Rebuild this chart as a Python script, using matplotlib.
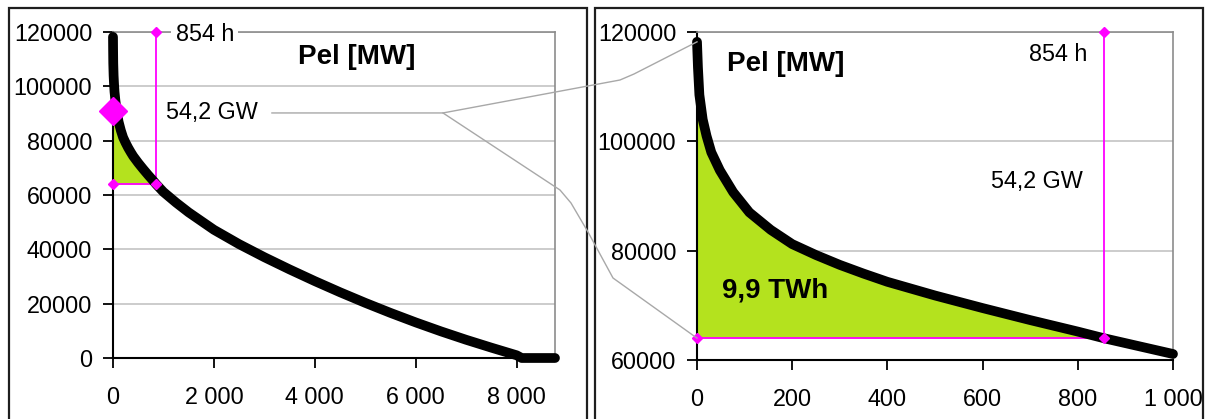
import numpy as np
import matplotlib
matplotlib.use("Agg")
import matplotlib.pyplot as plt
from matplotlib.lines import Line2D
from matplotlib.patches import Rectangle
from matplotlib.ticker import FuncFormatter

plt.rcParams['font.family'] = ['Liberation Sans', 'DejaVu Sans']

# Load duration curve (hours of the year sorted by load)
hours = [0, 2, 5, 12, 20, 30, 48, 76, 110, 155, 200, 250, 300, 350, 400, 500,
         600, 700, 800, 854, 1000, 1250, 1500, 2000, 2500, 3000, 3500, 4000,
         4500, 5000, 5500, 6000, 6500, 7000, 7500, 8000, 8100, 8760]
load_mw = [118200, 113500, 108500, 104000, 101000, 98000, 94700, 90700, 87000,
           83800, 81200, 79200, 77400, 75800, 74300, 71800, 69500, 67300, 65200,
           64000, 61100, 57200, 53600, 47200, 41900, 37100, 32600, 28300, 24200,
           20300, 16600, 13100, 9800, 6700, 3800, 1000, 0, 0]

# Peak-shaving figures
excess_gw = 54.2
base_mw = 64000
peak_mw = base_mw + excess_gw * 1000
peak_hours = 854
energy_twh = 9.9

left_xticks = [0, 2000, 4000, 6000, 8000]
left_yticks = [0, 20000, 40000, 60000, 80000, 100000, 120000]
right_xticks = [0, 200, 400, 600, 800, 1000]
right_yticks = [60000, 80000, 100000, 120000]

GREEN = '#B4E21E'
MAGENTA = '#FF00FF'
GRID = '#C4C4C4'
FRAME = '#8C8C8C'
FS = 16.8

W, H = 1207, 419
fig = plt.figure(figsize=(W / 100, H / 100), dpi=100)
fig.patch.set_facecolor('white')


def px(x, y):
    """Pixel position (top-left origin) to figure fraction."""
    return x / W, 1 - y / H


# chart frames
for x0, x1 in [(9, 587), (595, 1203)]:
    fig.add_artist(Rectangle((x0 / W, -0.2), (x1 - x0) / W, 0.2 + 1 - 8 / H,
                             transform=fig.transFigure, fill=False,
                             edgecolor='#1E1E1E', lw=1.6))

ax1 = fig.add_axes([113 / W, 61 / H, 442 / W, 326 / H])
ax2 = fig.add_axes([697 / W, 59 / H, 476 / W, 328 / H])

thousands = FuncFormatter(lambda v, _: f"{int(round(v)):,}".replace(",", " "))


def style(ax, xticks, yticks, xlim, ylim):
    ax.set_xlim(*xlim)
    ax.set_ylim(*ylim)
    ax.set_xticks(xticks)
    ax.set_yticks(yticks)
    ax.xaxis.set_major_formatter(thousands)
    for s in ('left', 'bottom'):
        ax.spines[s].set_color('black')
        ax.spines[s].set_linewidth(1.5)
    for s in ('top', 'right'):
        ax.spines[s].set_color(FRAME)
        ax.spines[s].set_linewidth(1.2)
    ax.grid(axis='y', color=GRID, lw=1.2)
    ax.set_axisbelow(True)
    ax.tick_params(direction='out', length=7, width=1.3, labelsize=FS,
                   colors='black')
    ax.tick_params(axis='y', pad=8)
    ax.tick_params(axis='x', pad=13)


style(ax1, left_xticks, left_yticks, (0, 8760), (0, 120000))
style(ax2, right_xticks, right_yticks, (0, 1000), (60000, 120000))

h = np.array(hours, dtype=float)
p = np.array(load_mw, dtype=float)
sel = h <= peak_hours
right_sel = h <= 1000

for ax, top, mask in [(ax1, 120000, np.ones_like(h, bool)), (ax2, 120000, right_sel)]:
    ax.fill_between(h[sel], p[sel], base_mw, color=GREEN, lw=0, zorder=2)
    ax.plot([0, peak_hours], [base_mw, base_mw], color=MAGENTA, lw=1.3, zorder=3)
    ax.plot([peak_hours, peak_hours], [base_mw, top], color=MAGENTA, lw=1.3,
            zorder=3, clip_on=False)
    ax.plot(h[mask], p[mask], color='black', lw=7, solid_capstyle='round',
            solid_joinstyle='round', zorder=4, clip_on=False)
    ax.plot([0, peak_hours, peak_hours], [base_mw, base_mw, top], 'D',
            color=MAGENTA, ms=5, zorder=6, clip_on=False)

mid_mw = (peak_mw + base_mw) / 2
ax1.plot([0], [mid_mw], 'D', color=MAGENTA, ms=14, zorder=6, clip_on=False)

gw_label = f"{excess_gw:.1f} GW".replace(".", ",")
h_label = f"{peak_hours} h"
e_label = f"{energy_twh:.1f} TWh".replace(".", ",")

# left chart labels
ax1.text(1240, 118900, h_label, fontsize=FS, va='center', ha='left', zorder=7,
         bbox=dict(facecolor='white', edgecolor='none', pad=3))
ax1.text(1060, 90200, gw_label, fontsize=FS, va='center', ha='left', zorder=7)
ax1.text(4830, 110800, "Pel [MW]", fontsize=20, fontweight='bold',
         va='center', ha='center', zorder=7)

# right chart labels
ax2.text(820, 115800, h_label, fontsize=FS, va='center', ha='right', zorder=7)
ax2.text(810, 92700, gw_label, fontsize=FS, va='center', ha='right', zorder=7)
ax2.text(187, 114100, "Pel [MW]", fontsize=20, fontweight='bold',
         va='center', ha='center', zorder=7)
ax2.text(52, 72800, e_label, fontsize=20, fontweight='bold', va='center',
         ha='left', zorder=7)

# zoom connector lines between the two charts
inv = fig.transFigure.inverted()
start = inv.transform(ax1.transData.transform((3150, 90200)))
branch = inv.transform(ax1.transData.transform((6540, 90200)))
to_peak = inv.transform(ax2.transData.transform((0, peak_mw)))
to_base = inv.transform(ax2.transData.transform((0, base_mw)))

upper = [start, branch, px(620, 80), px(634, 74), to_peak]
lower = [branch, px(560, 190), px(571, 203), px(588, 232), px(613, 278), to_base]
for path in (upper, lower):
    xs = [q[0] for q in path]
    ys = [q[1] for q in path]
    fig.add_artist(Line2D(xs, ys, transform=fig.transFigure, color='#A8A8A8',
                          lw=1.0, zorder=1))

fig.savefig("out.png", dpi=100, facecolor='white')
